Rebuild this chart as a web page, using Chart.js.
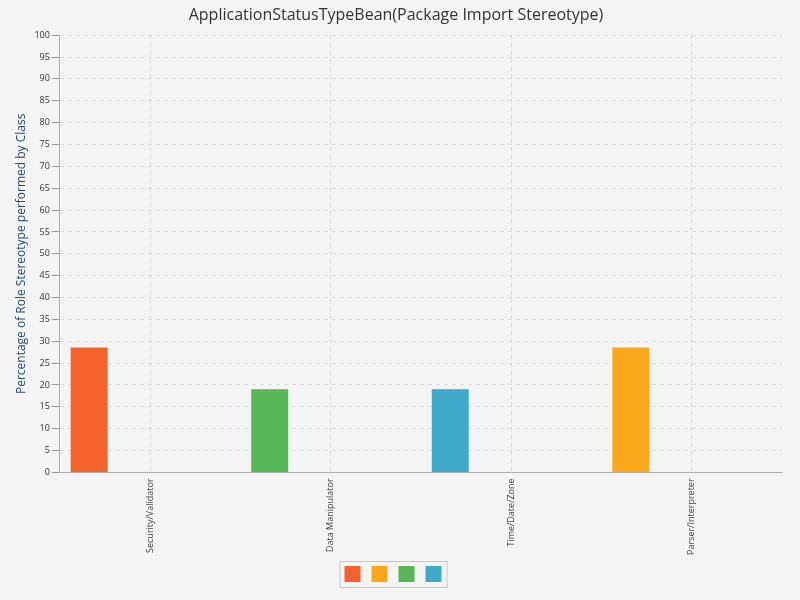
<!DOCTYPE html>
<html><head><meta charset="utf-8">
<script src="https://cdn.jsdelivr.net/npm/chart.js@4/dist/chart.umd.min.js"></script>
<style>html,body{margin:0;background:#f4f4f4;}#wrap{width:800px;height:600px;}</style>
</head><body><div id="wrap"><canvas id="c" width="800" height="600"></canvas></div>
<script>
var categories = ['Security/Validator', 'Data Manipulator', 'Time/Date/Zone', 'Parser/Interpreter'];
var values = [28.57, 19.05, 19.05, 28.57];
var barColors = ['#f3622d', '#57b757', '#41a9c9', '#fba71b'];
var legendColors = ['#f3622d', '#fba71b', '#57b757', '#41a9c9'];
var yTicks = [0,5,10,15,20,25,30,35,40,45,50,55,60,65,70,75,80,85,90,95,100];

var empty = categories.map(function(){ return null; });
var legendBox = {
  id: 'legendBox',
  afterDraw: function(chart) {
    var l = chart.legend;
    if (!l || !l.legendHitBoxes.length) return;
    var hb = l.legendHitBoxes;
    var x0 = hb[0].left - 5, x1 = hb[hb.length-1].left + 16 + 5;
    var y0 = hb[0].top - 5, y1 = hb[0].top + 16 + 5;
    var ctx = chart.ctx;
    ctx.save(); ctx.strokeStyle = '#c8c8c8'; ctx.lineWidth = 1;
    ctx.strokeRect(x0 + 0.5, y0 + 0.5, x1 - x0, y1 - y0); ctx.restore();
  }
};

new Chart(document.getElementById('c').getContext('2d'), {
  type: 'bar',
  data: {
    labels: categories,
    datasets: [
      { data: values, backgroundColor: barColors },
      { data: empty }, { data: empty }, { data: empty }
    ]
  },
  options: {
    responsive: false, animation: false,
    categoryPercentage: 0.9, barPercentage: 0.91,
    layout: { padding: { left: 10, right: 18, top: 0, bottom: 8 } },
    plugins: {
      title: { display: true, text: 'ApplicationStatusTypeBean(Package Import Stereotype)', color: '#333', font: { family: 'Open Sans', size: 16, weight: 'normal' }, padding: { top: 6, bottom: 10 } },
      legend: {
        position: 'bottom',
        labels: {
          boxWidth: 16, boxHeight: 16, padding: 5,
          generateLabels: function() {
            return legendColors.map(function(c, i) { return { text: '', fillStyle: c, strokeStyle: c, lineWidth: 0, datasetIndex: i }; });
          }
        }
      },
      tooltip: { enabled: false }
    },
    scales: {
      x: {
        grid: { offset: false, color: '#dcdcdc', tickLength: 0, drawTicks: false },
        border: { color: '#b0b0b0', dash: [4, 4] },
        ticks: { minRotation: 90, maxRotation: 90, color: '#444', font: { family: 'Open Sans', size: 9 }, padding: 6 }
      },
      y: {
        min: 0, max: 100,
        afterBuildTicks: function(s) { s.ticks = yTicks.map(function(v){ return { value: v }; }); },
        grid: { color: '#dcdcdc', tickLength: 8, tickColor: '#999' },
        border: { color: '#b0b0b0', dash: [4, 4] },
        ticks: { color: '#333', font: { family: 'Open Sans', size: 9 }, padding: 2 },
        title: { display: true, text: 'Percentage of Role Stereotype performed by Class', color: '#2a4a6a', font: { family: 'Open Sans', size: 12 } }
      }
    }
  },
  plugins: [legendBox]
});
</script></body></html>
